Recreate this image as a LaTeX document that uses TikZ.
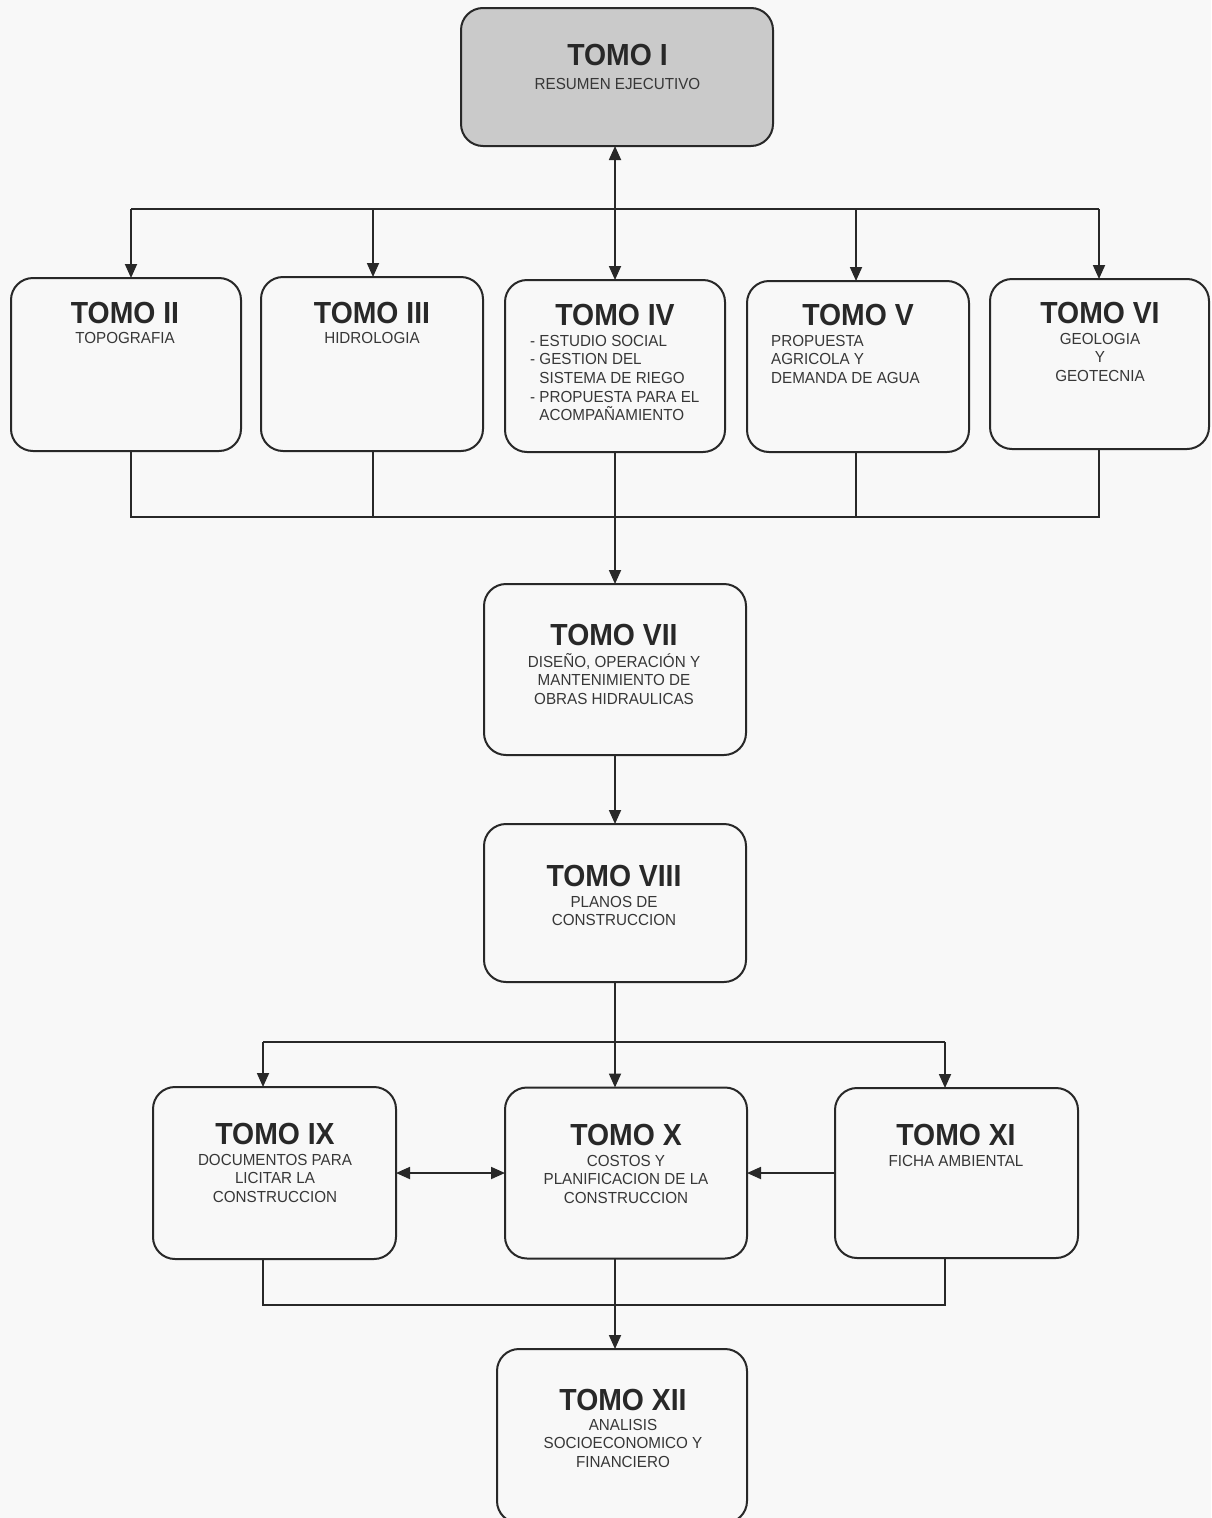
\documentclass[tikz,border=0pt]{standalone}
\usepackage{fontspec}
\setmainfont{Liberation Sans}[FakeStretch=0.95]
\newfontfamily\ttlfont{Liberation Sans}[FakeStretch=0.93]
\usetikzlibrary{arrows.meta}
\definecolor{ink}{RGB}{40,40,40}
\definecolor{txt}{RGB}{55,55,55}
\definecolor{paper}{RGB}{248,248,248}
\definecolor{greybox}{RGB}{202,202,202}
\newcommand{\fl}{\rule{0pt}{15pt}}
\begin{document}
\begin{tikzpicture}[x=1pt,y=-1pt,
  box/.style={draw=ink, line width=2pt, rounded corners=22pt, rectangle, inner sep=0pt, outer sep=0pt, fill=paper},
  ttl/.style={font=\ttlfont\bfseries\fontsize{30.5}{34}\selectfont, text=ink, anchor=base, inner sep=0pt},
  sub/.style={font=\fontsize{16}{18.6}\selectfont, text=txt, anchor=north, align=center, inner sep=0pt},
  subl/.style={sub, anchor=north west, align=left},
  conn/.style={draw=ink, line width=1.8pt},
  arr/.style={conn, -{Triangle[length=14pt,width=12pt]}},
  darr/.style={conn, {Triangle[length=14pt,width=12pt]}-{Triangle[length=14pt,width=12pt]}}]
\fill[paper] (0,0) rectangle (1211,1518);
\useasboundingbox (0,0) rectangle (1211,1518);

% boxes
\node[box, fill=greybox, minimum width=312pt, minimum height=138pt] (I) at (617,77) {};
\node[box, minimum width=230pt, minimum height=173pt] (II) at (126,364.5) {};
\node[box, minimum width=222pt, minimum height=174pt] (III) at (372,364) {};
\node[box, minimum width=220pt, minimum height=172pt] (IV) at (615,366) {};
\node[box, minimum width=222pt, minimum height=171pt] (V) at (858,366.5) {};
\node[box, minimum width=219pt, minimum height=170pt] (VI) at (1099.5,364) {};
\node[box, minimum width=262pt, minimum height=171pt] (VII) at (615,669.5) {};
\node[box, minimum width=262pt, minimum height=158pt] (VIII) at (615,903) {};
\node[box, minimum width=243pt, minimum height=172pt] (IX) at (274.5,1173) {};
\node[box, minimum width=242pt, minimum height=171pt] (X) at (626,1173) {};
\node[box, minimum width=243pt, minimum height=170pt] (XI) at (956.5,1173) {};
\node[box, minimum width=250pt, minimum height=174pt] (XII) at (622,1436) {};

% texts
\node[ttl] (tI) at (617.5,65) {TOMO I};
\node[sub] (sI) at (617.5,74.3) {\fl RESUMEN EJECUTIVO};
\node[ttl] (tII) at (125,323) {TOMO II};
\node[sub] (sII) at (125,328.5) {\fl TOPOGRAFIA};
\node[ttl] (tIII) at (372,323) {TOMO III};
\node[sub] (sIII) at (372,328.5) {\fl HIDROLOGIA};
\node[ttl] (tIV) at (615,325) {TOMO IV};
\node[subl] (sIV) at (530,331) {\fl - ESTUDIO SOCIAL\\- GESTION DEL\\\phantom{- }SISTEMA DE RIEGO\\- PROPUESTA PARA EL\\\phantom{- }ACOMPAÑAMIENTO};
\node[ttl] (tV) at (858,325) {TOMO V};
\node[subl] (sV) at (771,331) {\fl PROPUESTA\\AGRICOLA Y\\DEMANDA DE AGUA};
\node[ttl] (tVI) at (1100,323) {TOMO VI};
\node[sub] (sVI) at (1100,329) {\fl GEOLOGIA\\Y\\GEOTECNIA};
\node[ttl] (tVII) at (614,645) {TOMO VII};
\node[sub] (sVII) at (614,652) {\fl DISEÑO, OPERACIÓN Y\\MANTENIMIENTO DE\\OBRAS HIDRAULICAS};
\node[ttl] (tVIII) at (614,886) {TOMO VIII};
\node[sub] (sVIII) at (614,892) {\fl PLANOS DE\\CONSTRUCCION};
\node[ttl] (tIX) at (275,1144) {TOMO IX};
\node[sub] (sIX) at (275,1150) {\fl DOCUMENTOS PARA\\LICITAR LA\\CONSTRUCCION};
\node[ttl] (tX) at (626,1145) {TOMO X};
\node[sub] (sX) at (626,1151) {\fl COSTOS Y\\PLANIFICACION DE LA\\CONSTRUCCION};
\node[ttl] (tXI) at (956,1145) {TOMO XI};
\node[sub] (sXI) at (956,1151.7) {\fl FICHA AMBIENTAL};
\node[ttl] (tXII) at (623,1410) {TOMO XII};
\node[sub] (sXII) at (623,1415) {\fl ANALISIS\\SOCIOECONOMICO Y\\FINANCIERO};

% top bus
\coordinate (tb2) at (131,209);
\coordinate (tb3) at (373,209);
\coordinate (tb5) at (856,209);
\coordinate (tb6) at (1099,209);
\draw[conn] (tb2) -- (tb6);
\draw[arr] (tb2) -- (tb2 |- II.north);
\draw[arr] (tb3) -- (tb3 |- III.north);
\draw[arr] (tb5) -- (tb5 |- V.north);
\draw[arr] (tb6) -- (tb6 |- VI.north);
\draw[darr] (IV.north |- I.south) -- (IV.north);

% lower bus
\coordinate (lb2) at (131,517);
\coordinate (lb3) at (373,517);
\coordinate (lb5) at (856,517);
\coordinate (lb6) at (1099,517);
\draw[conn] (lb2 |- II.south) -- (lb2) -- (lb6) -- (lb6 |- VI.south);
\draw[conn] (lb3 |- III.south) -- (lb3);
\draw[conn] (lb5 |- V.south) -- (lb5);
\draw[arr] (IV.south) -- (IV.south |- VII.north);
\draw[arr] (VII.south) -- (VIII.north);
\draw[arr] (VIII.south) -- (VIII.south |- X.north);

% middle bus
\coordinate (mb9) at (263,1042);
\coordinate (mb11) at (945,1042);
\draw[conn] (mb9) -- (mb11);
\draw[arr] (mb9) -- (mb9 |- IX.north);
\draw[arr] (mb11) -- (mb11 |- XI.north);
\draw[darr] (IX.east) -- (IX.east -| X.west);
\draw[arr] (XI.west) -- (XI.west -| X.east);

% bottom bus
\coordinate (bb9) at (263,1305);
\coordinate (bb11) at (945,1305);
\coordinate (bbx) at (615,1305);
\draw[conn] (bb9 |- IX.south) -- (bb9) -- (bb11) -- (bb11 |- XI.south);
\draw[arr] (bbx |- X.south) -- (bbx |- XII.north);
\end{tikzpicture}
\end{document}
